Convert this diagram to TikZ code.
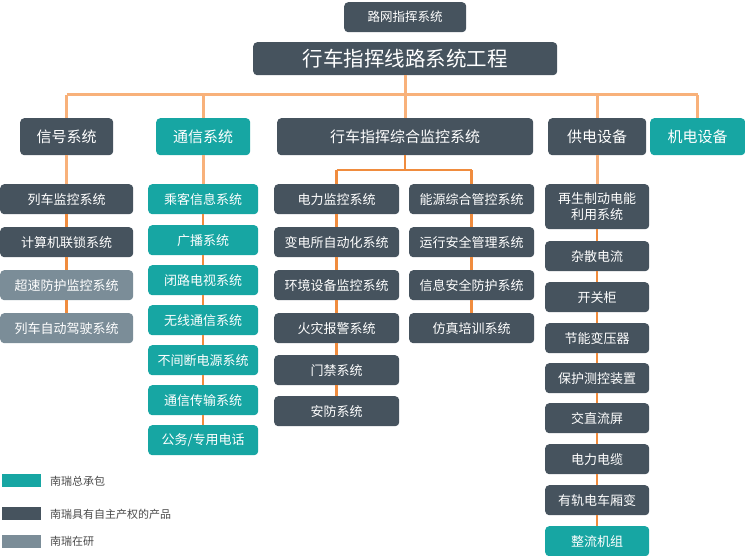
\documentclass[tikz,border=0pt]{standalone}
\usepackage{fontspec}
\setmainfont{Noto Sans CJK SC}
\definecolor{dkc}{HTML}{46535E}
\definecolor{tlc}{HTML}{17A6A3}
\definecolor{grc}{HTML}{7B8D98}
\definecolor{busc}{HTML}{F8B17A}
\definecolor{colc}{HTML}{F08C3E}
\definecolor{legtxt}{HTML}{4A4A4A}
\begin{document}
\begin{tikzpicture}[x=1pt,y=-1pt,
  bx/.style={rounded corners=4pt, inner sep=0pt, text=white, anchor=north west, align=center},
  dkbox/.style={bx, fill=dkc},
  tlbox/.style={bx, fill=tlc},
  grbox/.style={bx, fill=grc},
  ft/.style={font=\fontsize{#1}{#1}\selectfont},
  busline/.style={draw=busc, line width=3pt},
  colline/.style={draw=colc, line width=2.5pt},
  legbox/.style={inner sep=0pt, anchor=north west, minimum width=39pt, minimum height=13pt},
  legtext/.style={anchor=west, inner sep=0pt, text=legtxt, font=\fontsize{11}{11}\selectfont}]
\useasboundingbox (0,0) rectangle (745,556);

% top
\node[dkbox, ft=12.5, minimum width=122pt, minimum height=30pt] (top) at (344,2) {路网指挥系统};
\node[dkbox, ft=20.5, minimum width=304pt, minimum height=33pt] (main) at (253,42) {行车指挥线路系统工程};

% level 2
\node[dkbox, ft=15, minimum width=93pt, minimum height=37pt] (xh) at (20,118) {信号系统};
\node[tlbox, ft=15, minimum width=94pt, minimum height=37pt] (tx) at (156,118) {通信系统};
\node[dkbox, ft=15, minimum width=256pt, minimum height=37pt] (zh) at (277,118) {行车指挥综合监控系统};
\node[dkbox, ft=15, minimum width=98pt, minimum height=37pt] (gd) at (548,118) {供电设备};
\node[tlbox, ft=15, minimum width=95pt, minimum height=37pt] (jd) at (650,118) {机电设备};

% column 1
\tikzset{c1/.style={minimum width=133pt, minimum height=30pt, ft=13}}
\node[dkbox, c1] (c1a) at (0,184) {列车监控系统};
\node[dkbox, c1] (c1b) at (0,227) {计算机联锁系统};
\node[grbox, c1] (c1c) at (0,270) {超速防护监控系统};
\node[grbox, c1] (c1d) at (0,313) {列车自动驾驶系统};

% column 2
\tikzset{c2/.style={tlbox, minimum width=110pt, minimum height=30pt, ft=13}}
\node[c2] (c2a) at (148,184) {乘客信息系统};
\node[c2] (c2b) at (148,225) {广播系统};
\node[c2] (c2c) at (148,265) {闭路电视系统};
\node[c2] (c2d) at (148,305) {无线通信系统};
\node[c2] (c2e) at (148,345) {不间断电源系统};
\node[c2] (c2f) at (148,385) {通信传输系统};
\node[c2] (c2g) at (148,425) {公务/专用电话};

% column 3
\tikzset{c3/.style={dkbox, minimum width=125pt, minimum height=30pt, ft=13}}
\node[c3] (c3a) at (274,184) {电力监控系统};
\node[c3] (c3b) at (274,227) {变电所自动化系统};
\node[c3] (c3c) at (274,270) {环境设备监控系统};
\node[c3] (c3d) at (274,313) {火灾报警系统};
\node[c3] (c3e) at (274,355) {门禁系统};
\node[c3] (c3f) at (274,396) {安防系统};

% column 4
\node[c3] (c4a) at (409,184) {能源综合管控系统};
\node[c3] (c4b) at (409,227) {运行安全管理系统};
\node[c3] (c4c) at (409,270) {信息安全防护系统};
\node[c3] (c4d) at (409,313) {仿真培训系统};

% column 5
\tikzset{c5/.style={minimum width=104pt, minimum height=30pt, ft=13}}
\node[dkbox, c5, minimum height=45pt, font=\fontsize{13}{16}\selectfont] (c5a) at (545,184) {再生制动电能\\利用系统};
\node[dkbox, c5] (c5b) at (545,241) {杂散电流};
\node[dkbox, c5] (c5c) at (545,282) {开关柜};
\node[dkbox, c5] (c5d) at (545,323) {节能变压器};
\node[dkbox, c5] (c5e) at (545,363) {保护测控装置};
\node[dkbox, c5] (c5f) at (545,403) {交直流屏};
\node[dkbox, c5] (c5g) at (545,444) {电力电缆};
\node[dkbox, c5] (c5h) at (545,485) {有轨电车厢变};
\node[tlbox, c5] (c5i) at (545,526) {整流机组};

% top connectors
\coordinate (busy) at (0,95);
\coordinate (suby) at (0,170);
\draw[busline] (xh.north |- busy) -- (jd.north |- busy);
\draw[busline] (main) -- (zh);
\foreach \n in {xh,tx,gd,jd} \draw[busline] (\n.north) -- (\n.north |- busy);

% sub bus of zh
\draw[colline] (zh.south) -- (zh.south |- suby);
\draw[colline] (c3a.north |- suby) -- (c4a.north |- suby);
\draw[colline] (c3a.north) -- (c3a.north |- suby);
\draw[colline] (c4a.north) -- (c4a.north |- suby);

% column chains
\draw[busline] (xh) -- (c1a);
\draw[busline] (tx) -- (c2a);
\draw[busline] (gd) -- (c5a);
\foreach \a/\b in {c1a/c1b,c1b/c1c,c1c/c1d,
                   c2a/c2b,c2b/c2c,c2c/c2d,c2d/c2e,c2e/c2f,c2f/c2g,
                   c3a/c3b,c3b/c3c,c3c/c3d,c3d/c3e,c3e/c3f,
                   c4a/c4b,c4b/c4c,c4c/c4d,
                   c5a/c5b,c5b/c5c,c5c/c5d,c5d/c5e,c5e/c5f,c5f/c5g,c5g/c5h,c5h/c5i}
  \draw[colline] (\a) -- (\b);

% legend
\node[legbox, fill=tlc] (lg1) at (2,474) {};
\node[legbox, fill=dkc] (lg2) at (2,507) {};
\node[legbox, fill=grc] (lg3) at (2,535) {};
\node[legtext] (lt1) at (50,481) {南瑞总承包};
\node[legtext] (lt2) at (50,514) {南瑞具有自主产权的产品};
\node[legtext] (lt3) at (50,541) {南瑞在研};
\end{tikzpicture}
\end{document}
